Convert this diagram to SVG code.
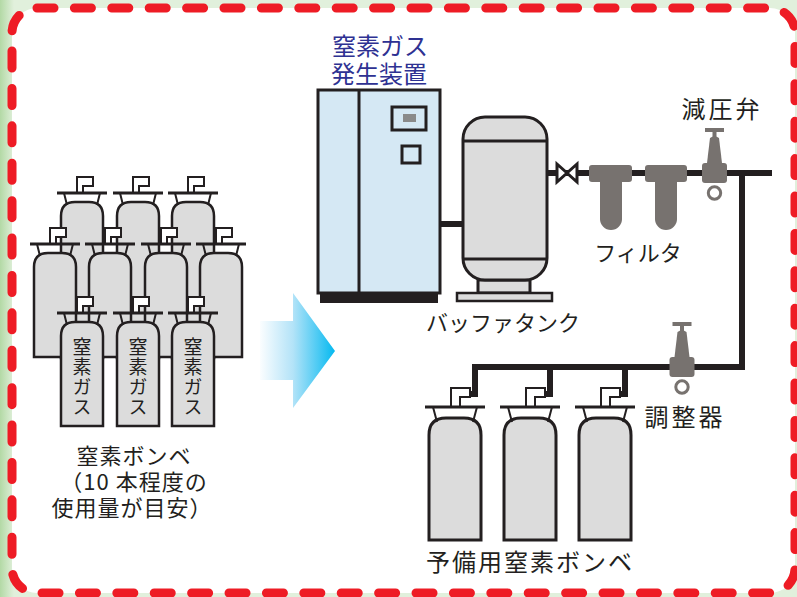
<svg xmlns="http://www.w3.org/2000/svg" xmlns:xlink="http://www.w3.org/1999/xlink" width="797" height="597" viewBox="0 0 797 597">
  <style>
    .ink { fill: #231f20; }
    .lbl { font-family: "Noto Sans CJK JP", "Noto Sans", sans-serif; fill: #231f20; text-anchor: middle; }
    .vert { font-family: "Noto Sans CJK JP", "Noto Sans", sans-serif; fill: #231f20; writing-mode: vertical-rl; font-size: 19px; letter-spacing: 1px; }
    .navy { fill: #2e3192; }
    .gas { fill: #dcdcdc; stroke: #231f20; stroke-width: 2.5; }
    .gas-l { fill: #dcdcdc; stroke: #231f20; stroke-width: 3; }
    .stem { fill: #ffffff; stroke: #231f20; stroke-width: 2; stroke-linejoin: miter; }
    .bar { stroke: #231f20; stroke-width: 3; fill: none; }
    .neck { stroke: #231f20; stroke-width: 2; fill: none; }
    .pipe { fill: none; stroke: #231f20; stroke-width: 6; stroke-linejoin: miter; }
    .panel { fill: #d5e8f4; stroke: #231f20; stroke-width: 3; }
    .metal { fill: #77726f; }
    .ring { fill: #ffffff; stroke: #77726f; stroke-width: 3; }
    .frame { fill: #ffffff; stroke: #ee1c25; stroke-width: 9; stroke-dasharray: 17 20.4; stroke-linecap: round; }
  </style>
  <defs>
    <linearGradient id="edge" x1="0" y1="0" x2="1" y2="0">
      <stop offset="0" stop-color="#b3d9a5"/>
      <stop offset="1" stop-color="#e1f0dc"/>
    </linearGradient>
    <linearGradient id="flow" gradientUnits="userSpaceOnUse" x1="258" y1="0" x2="336" y2="0">
      <stop offset="0" stop-color="#ffffff"/>
      <stop offset="0.45" stop-color="#b3e3f8"/>
      <stop offset="1" stop-color="#00b8f0"/>
    </linearGradient>

    <!-- small gas cylinder, origin = top of dome, centre line -->
    <g id="cyl-s">
      <path class="stem" d="M-5,-9 V-25 H11 V-16 H1 V-9 Z"/>
      <path class="gas" d="M-21,104 V14 Q-21,0 -7,0 H7 Q21,0 21,14 V104 Z"/>
      <path class="neck" d="M-18,-9 L-15,3 M18,-9 L15,3"/>
      <line class="bar" x1="-25" y1="-9" x2="25" y2="-9"/>
    </g>
    <!-- back-row cylinder: same head, longer body hidden behind the others -->
    <g id="cyl-s-back">
      <path class="stem" d="M-5,-9 V-25 H11 V-16 H1 V-9 Z"/>
      <path class="gas" d="M-21,156 V14 Q-21,0 -7,0 H7 Q21,0 21,14 V156 Z"/>
      <path class="neck" d="M-18,-9 L-15,3 M18,-9 L15,3"/>
      <line class="bar" x1="-25" y1="-9" x2="25" y2="-9"/>
    </g>
    <!-- large reserve cylinder -->
    <g id="cyl-l">
      <path class="stem" stroke-width="2.5" d="M-4,-11 V-30 H15 V-21 H5 V-11 Z"/>
      <path class="gas-l" d="M-26,122 V17 Q-26,0 -9,0 H9 Q26,0 26,17 V122 Z"/>
      <path class="neck" stroke-width="2.5" d="M-22,-11 L-18,4 M22,-11 L18,4"/>
      <line class="bar" stroke-width="3.5" x1="-30" y1="-11" x2="30" y2="-11"/>
    </g>
    <!-- pressure valve, origin = top centre of body -->
    <g id="valve">
      <rect class="metal" x="-9.5" y="-35" width="19" height="4"/>
      <rect class="metal" x="-2" y="-31.5" width="4" height="6"/>
      <path class="metal" d="M-4.5,-25 Q0,-28.5 4.5,-25 L7.5,0 H-7.5 Z"/>
      <rect class="metal" x="-12.5" y="0" width="25" height="20" rx="3"/>
      <circle class="ring" cx="0" cy="30" r="6.2"/>
    </g>
  </defs>

  <!-- page background and dashed frame -->
  <rect x="0" y="0" width="797" height="597" fill="#e1f0dc"/>
  <rect x="0" y="0" width="14" height="597" fill="url(#edge)"/>
  <rect class="frame" x="12" y="8" width="783" height="585" rx="25" ry="25"/>

  <!-- piping -->
  <g id="pipes">
    <path class="pipe" d="M440,224 H463"/>
    <path class="pipe" d="M547,173 H772"/>
    <path class="pipe" d="M742,173 V367 H475 V394 H470"/>
    <path class="pipe" d="M550,367 V394 H545"/>
    <path class="pipe" d="M625,367 V394 H620"/>
  </g>

  <!-- cylinder bank -->
  <g id="cylinder-bank">
    <use xlink:href="#cyl-s-back" x="82" y="202"/>
    <use xlink:href="#cyl-s-back" x="138" y="202"/>
    <use xlink:href="#cyl-s-back" x="193" y="202"/>
    <use xlink:href="#cyl-s" x="55" y="253"/>
    <use xlink:href="#cyl-s" x="110" y="253"/>
    <use xlink:href="#cyl-s" x="166" y="253"/>
    <use xlink:href="#cyl-s" x="221" y="253"/>
    <use xlink:href="#cyl-s" x="82" y="322"/>
    <use xlink:href="#cyl-s" x="138" y="322"/>
    <use xlink:href="#cyl-s" x="193" y="322"/>
    <text class="vert" x="82" y="337">窒素ガス</text>
    <text class="vert" x="138" y="337">窒素ガス</text>
    <text class="vert" x="193" y="337">窒素ガス</text>
    <text class="lbl" font-size="22" letter-spacing="1" x="134" y="464">窒素ボンベ</text>
    <text class="lbl" font-size="22" letter-spacing="1" x="134" y="490">（10 本程度の</text>
    <text class="lbl" font-size="22" letter-spacing="1" x="132" y="516">使用量が目安）</text>
  </g>

  <!-- flow arrow -->
  <g id="arrow">
    <polygon points="260,321 293,321 293,293 335,351 293,408 293,380 260,380" fill="url(#flow)"/>
  </g>

  <!-- nitrogen generator -->
  <g id="generator">
    <text class="lbl navy" font-size="24" x="380" y="55">窒素ガス</text>
    <text class="lbl navy" font-size="24" x="379" y="83">発生装置</text>
    <rect class="panel" x="318" y="90" width="122" height="203"/>
    <line x1="359" y1="90" x2="359" y2="293" stroke="#231f20" stroke-width="3"/>
    <rect class="ink" x="320" y="293" width="118" height="10"/>
    <rect class="panel" x="392" y="107" width="34" height="23"/>
    <rect x="403" y="114" width="13" height="8" fill="#8a8a8a"/>
    <rect class="panel" x="402" y="146" width="18" height="17"/>
  </g>

  <!-- buffer tank -->
  <g id="buffer-tank">
    <rect class="gas-l" x="478" y="280" width="52" height="13"/>
    <rect class="gas" x="457" y="293" width="95" height="8"/>
    <rect class="gas-l" x="463" y="117" width="84" height="163" rx="22" ry="22"/>
    <line x1="463" y1="141" x2="547" y2="141" stroke="#231f20" stroke-width="3"/>
    <line x1="463" y1="259" x2="547" y2="259" stroke="#231f20" stroke-width="3"/>
    <text class="lbl" font-size="22" x="503" y="331">バッファタンク</text>
  </g>

  <!-- stop valve -->
  <g id="stop-valve">
    <path d="M557,164 L567,173 L557,182 Z M577,164 L567,173 L577,182 Z" fill="#ffffff" stroke="#231f20" stroke-width="3" stroke-linejoin="miter"/>
  </g>

  <!-- filters -->
  <g id="filters">
    <rect class="metal" x="589" y="165" width="43" height="17" rx="3"/>
    <path class="metal" d="M600,180 H622 V219 A11,11 0 0 1 600,219 Z"/>
    <rect class="metal" x="645" y="165" width="42" height="17" rx="3"/>
    <path class="metal" d="M655,180 H677 V219 A11,11 0 0 1 655,219 Z"/>
    <text class="lbl" font-size="22" x="638" y="261">フィルタ</text>
  </g>

  <!-- pressure reducing valve -->
  <g id="reducing-valve">
    <use xlink:href="#valve" x="714.5" y="163"/>
    <text class="lbl" font-size="24" letter-spacing="3" x="722" y="118">減圧弁</text>
  </g>

  <!-- regulator -->
  <g id="regulator">
    <use xlink:href="#valve" x="682" y="357"/>
    <text class="lbl" font-size="24" letter-spacing="3" x="685" y="426">調整器</text>
  </g>

  <!-- reserve cylinders -->
  <g id="reserve-cylinders">
    <use xlink:href="#cyl-l" x="455" y="418"/>
    <use xlink:href="#cyl-l" x="530" y="418"/>
    <use xlink:href="#cyl-l" x="605" y="418"/>
    <text class="lbl" font-size="24" letter-spacing="2" x="530" y="571">予備用窒素ボンベ</text>
  </g>
</svg>
